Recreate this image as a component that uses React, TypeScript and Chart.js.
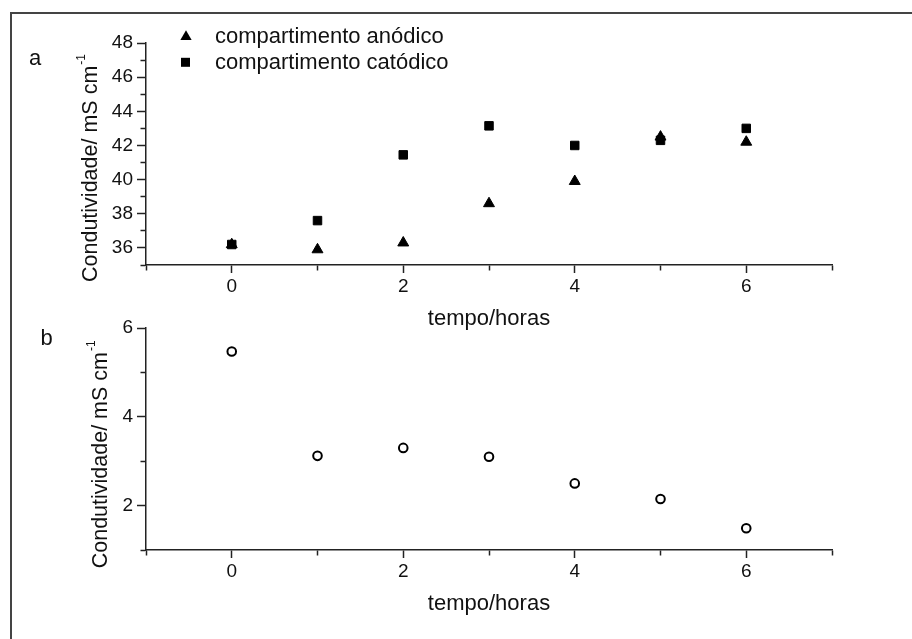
import React, { useEffect, useRef } from 'react';
import { Chart, registerables } from 'chart.js';

Chart.register(...registerables);

// ---------- data ----------
const hours = [0, 1, 2, 3, 4, 5, 6];
const anodico = [36.2, 35.9, 36.3, 38.6, 39.9, 42.5, 42.2];
const catodico = [36.2, 37.6, 41.45, 43.15, 42.0, 42.3, 43.0];
const panelBValues = [5.47, 3.12, 3.3, 3.1, 2.5, 2.15, 1.49];

const legendLabels = ['compartimento anódico', 'compartimento catódico'];
const xTitle = 'tempo/horas';
const yTitle = 'Condutividade/ mS cm';
const ySup = '-1';
const panelLetters = ['a', 'b'];
const xRange = [-1, 7];
const yRangeA = [35, 48];
const yRangeB = [1, 6];

// ---------- style ----------
const FONT = "'Liberation Sans', Arial, Helvetica, sans-serif";
const INK = '#111';
const AXIS = '#222';
const CANVAS_W = 912;
const CANVAS_H = 340;
const AREA = { left: 146, right: 832, top: 43, bottom: 265 };

const isMinor = (c: any) => c && c.tick && Math.abs(Math.round(c.tick.value) % 2) === 1;

function xAxis() {
  return {
    type: 'linear',
    position: 'bottom',
    min: xRange[0],
    max: xRange[1],
    afterFit: (s: any) => {
      s.height = CANVAS_H - AREA.bottom;
    },
    ticks: {
      stepSize: 1,
      autoSkip: false,
      maxRotation: 0,
      padding: 2,
      color: INK,
      font: { family: FONT, size: 19 },
      callback: (v: any) => (Math.round(v) % 2 === 0 ? String(v) : ''),
    },
    grid: {
      drawOnChartArea: false,
      drawTicks: true,
      tickLength: 8,
      tickColor: AXIS,
      tickWidth: 1.5,
      tickBorderDash: (c: any) => (isMinor(c) ? [5, 100] : []),
    },
    border: { display: true, color: AXIS, width: 1.5 },
    title: {
      display: true,
      text: xTitle,
      color: INK,
      font: { family: FONT, size: 22 },
      padding: { top: 0, bottom: 8 },
    },
  };
}

function yAxis(range: number[]) {
  return {
    type: 'linear',
    position: 'left',
    min: range[0],
    max: range[1],
    afterFit: (s: any) => {
      s.width = AREA.left;
    },
    ticks: {
      stepSize: 1,
      autoSkip: false,
      padding: 4,
      color: INK,
      font: { family: FONT, size: 19 },
      callback: (v: any) => (Math.round(v) % 2 === 0 ? String(v) : ''),
    },
    grid: {
      drawOnChartArea: false,
      drawTicks: true,
      tickLength: 9,
      tickColor: AXIS,
      tickWidth: 1.5,
      tickBorderDash: (c: any) => (isMinor(c) ? [0, 3.5, 5.5, 100] : []),
    },
    border: { display: true, color: AXIS, width: 1.5 },
    title: { display: false },
  };
}

function drawTriangle(ctx: CanvasRenderingContext2D, x: number, y: number, r: number) {
  ctx.beginPath();
  ctx.moveTo(x, y - r);
  ctx.lineTo(x + r * Math.sin(Math.PI / 3), y + r / 2);
  ctx.lineTo(x - r * Math.sin(Math.PI / 3), y + r / 2);
  ctx.closePath();
  ctx.fill();
}

function overlay(cfg: any) {
  return {
    id: 'overlay',
    afterDraw(chart: any) {
      const ctx: CanvasRenderingContext2D = chart.ctx;
      ctx.save();
      ctx.fillStyle = INK;
      ctx.textAlign = 'left';
      ctx.textBaseline = 'alphabetic';
      // panel letter
      ctx.font = `22px ${FONT}`;
      ctx.fillText(cfg.letter, cfg.letterX, cfg.letterY);
      // rotated y title with superscript
      ctx.save();
      ctx.translate(cfg.titleX, cfg.titleY);
      ctx.rotate(-Math.PI / 2);
      ctx.font = `21.5px ${FONT}`;
      ctx.fillText(yTitle, 0, 0);
      const w = ctx.measureText(yTitle).width;
      ctx.font = `12px ${FONT}`;
      ctx.fillText(ySup, w + 1, -12);
      ctx.restore();
      // legend
      if (cfg.legend) {
        const ds = chart.data.datasets;
        ctx.font = `22px ${FONT}`;
        ds.forEach((d: any, i: number) => {
          const base = 43.3 + i * 26;
          ctx.fillStyle = '#000';
          if (d.pointStyle === 'triangle') {
            drawTriangle(ctx, 186, base - 6.5, 6.5);
          } else {
            ctx.fillRect(181, base - 11.5, 9, 9);
          }
          ctx.fillStyle = INK;
          ctx.fillText(d.label, 215, base);
        });
      }
      ctx.restore();
    },
  };
}

function baseOptions(range: number[]) {
  return {
    responsive: false,
    animation: false,
    events: [],
    layout: { padding: { left: 0, right: CANVAS_W - AREA.right, top: AREA.top, bottom: 0 } },
    plugins: { legend: { display: false }, tooltip: { enabled: false } },
    scales: { x: xAxis(), y: yAxis(range) },
  };
}

export default function App() {
  const topRef = useRef<HTMLCanvasElement>(null);
  const botRef = useRef<HTMLCanvasElement>(null);

  useEffect(() => {
    const top = new Chart(topRef.current as HTMLCanvasElement, {
      type: 'scatter',
      data: {
        datasets: [
          {
            label: legendLabels[0],
            data: hours.map((h, i) => ({ x: h, y: anodico[i] })),
            pointStyle: 'triangle',
            pointRadius: 6.3,
            backgroundColor: '#000',
            borderColor: '#000',
            borderWidth: 1,
            showLine: false,
          },
          {
            label: legendLabels[1],
            data: hours.map((h, i) => ({ x: h, y: catodico[i] })),
            pointStyle: 'rect',
            pointRadius: 6,
            backgroundColor: '#000',
            borderColor: '#000',
            borderWidth: 1,
            showLine: false,
          },
        ],
      },
      options: baseOptions(yRangeA) as any,
      plugins: [
        overlay({ letter: panelLetters[0], letterX: 29, letterY: 65, titleX: 97, titleY: 282, legend: true }),
      ],
    });

    const bot = new Chart(botRef.current as HTMLCanvasElement, {
      type: 'scatter',
      data: {
        datasets: [
          {
            label: 'b',
            data: hours.map((h, i) => ({ x: h, y: panelBValues[i] })),
            pointStyle: 'circle',
            pointRadius: 4.3,
            backgroundColor: '#fff',
            borderColor: '#000',
            borderWidth: 2,
            showLine: false,
          },
        ],
      },
      options: baseOptions(yRangeB) as any,
      plugins: [
        overlay({ letter: panelLetters[1], letterX: 40.5, letterY: 60, titleX: 107, titleY: 283.3, legend: false }),
      ],
    });

    return () => {
      top.destroy();
      bot.destroy();
    };
  }, []);

  return (
    <div
      style={{
        position: 'absolute',
        left: 0,
        top: 0,
        width: CANVAS_W,
        height: 639,
        overflow: 'hidden',
        background: '#fff',
      }}
    >
      <div
        style={{
          position: 'absolute',
          left: 10,
          top: 12,
          width: 1000,
          height: 700,
          border: '2px solid #444',
          boxSizing: 'border-box',
        }}
      />
      <canvas
        ref={topRef}
        width={CANVAS_W}
        height={CANVAS_H}
        style={{ position: 'absolute', left: 0, top: 0, width: CANVAS_W, height: CANVAS_H }}
      />
      <canvas
        ref={botRef}
        width={CANVAS_W}
        height={CANVAS_H}
        style={{ position: 'absolute', left: 0, top: 285, width: CANVAS_W, height: CANVAS_H }}
      />
    </div>
  );
}
